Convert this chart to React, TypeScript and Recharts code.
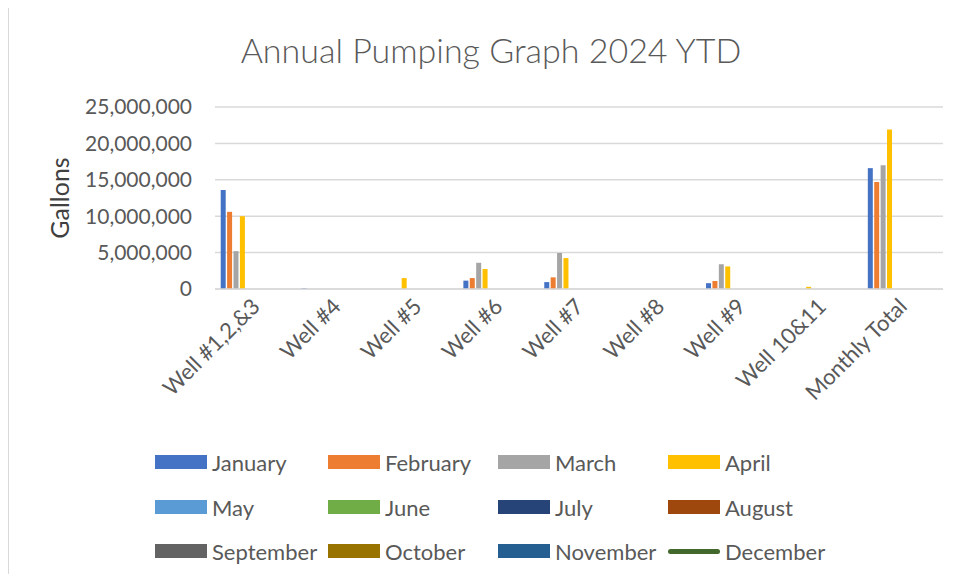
import React from 'react';
import {
  ComposedChart,
  Bar,
  Line,
  XAxis,
  YAxis,
  CartesianGrid,
  Legend,
} from 'recharts';

const TITLE = 'Annual Pumping Graph 2024 YTD';
const Y_LABEL = 'Gallons';

const CATEGORIES = [
  'Well #1,2,&3',
  'Well #4',
  'Well #5',
  'Well #6',
  'Well #7',
  'Well #8',
  'Well #9',
  'Well 10&11',
  'Monthly Total',
];

const MONTHS = [
  'January',
  'February',
  'March',
  'April',
  'May',
  'June',
  'July',
  'August',
  'September',
  'October',
  'November',
  'December',
];

const JANUARY = [13600000, 100000, 0, 1150000, 950000, 0, 800000, 0, 16600000];
const FEBRUARY = [10600000, 0, 0, 1500000, 1600000, 0, 1100000, 0, 14700000];
const MARCH = [5200000, 0, 0, 3600000, 4950000, 0, 3400000, 0, 17000000];
const APRIL = [10000000, 0, 1500000, 2750000, 4250000, 0, 3100000, 300000, 21900000];

const Y_TICKS = [0, 5000000, 10000000, 15000000, 20000000, 25000000];

const SERIES_VALUES: Record<string, number[]> = {
  January: JANUARY,
  February: FEBRUARY,
  March: MARCH,
  April: APRIL,
};

const COLORS = [
  '#4472C4',
  '#ED7D31',
  '#A5A5A5',
  '#FFC000',
  '#5B9BD5',
  '#70AD47',
  '#264478',
  '#9E480E',
  '#636363',
  '#997300',
  '#255E91',
  '#43682B',
];

const data = CATEGORIES.map((name, i) => {
  const row: Record<string, any> = { name };
  Object.keys(SERIES_VALUES).forEach((m) => {
    row[m] = SERIES_VALUES[m][i];
  });
  return row;
});

const FONT = 'Lato, "Open Sans", sans-serif';
const TEXT = '#595959';

const XTick = (props: any) => {
  const { x, y, payload } = props;
  return (
    <g transform={`translate(${x - 5},${y + 8})`}>
      <text
        x={0}
        y={0}
        dy="0.7em"
        textAnchor="end"
        transform="rotate(-45)"
        fill={TEXT}
        fontSize={22}
        fontFamily={FONT}
      >
        {payload.value}
      </text>
    </g>
  );
};

const YLabel = (props: any) => {
  const { viewBox } = props;
  const cx = 51;
  const cy = viewBox.y + viewBox.height / 2;
  return (
    <text
      x={cx}
      y={cy}
      textAnchor="middle"
      dominantBaseline="central"
      transform={`rotate(-90, ${cx}, ${cy})`}
      fill="#404040"
      fontSize={25}
      fontFamily={FONT}
    >
      {Y_LABEL}
    </text>
  );
};

const COL_X = [147, 320, 490, 660];
const ROW_Y = [454, 499, 543];

const LegendContent = () => (
  <div style={{ position: 'relative', width: 947, height: 566 }}>
    {MONTHS.map((m, i) => {
      const col = i % 4;
      const row = Math.floor(i / 4);
      const isLine = m === 'December';
      return (
        <div
          key={m}
          style={{
            position: 'absolute',
            left: COL_X[col],
            top: ROW_Y[row] - 14,
            height: 28,
            display: 'flex',
            alignItems: 'center',
            whiteSpace: 'nowrap',
          }}
        >
          <div
            style={{
              width: 52,
              height: isLine ? 5 : 14,
              borderRadius: isLine ? 3 : 0,
              background: COLORS[i],
              marginRight: 5,
            }}
          />
          <span style={{ fontFamily: FONT, fontSize: 22, color: TEXT }}>{m}</span>
        </div>
      );
    })}
  </div>
);

export default function App() {
  return (
    <div
      style={{
        position: 'relative',
        width: 947,
        height: 566,
        overflow: 'hidden',
        background: '#fff',
      }}
    >
      <div
        style={{
          position: 'absolute',
          left: 0,
          top: -1,
          width: 947,
          height: 1,
          background: '#d9d9d9',
        }}
      />
      <div
        style={{
          position: 'absolute',
          left: 0,
          top: -1,
          width: 1,
          height: 567,
          background: '#d9d9d9',
        }}
      />
      <div
        style={{
          position: 'absolute',
          left: 0,
          top: 21,
          width: 966,
          textAlign: 'center',
          fontFamily: FONT,
          fontSize: 34,
          fontWeight: 300,
          lineHeight: '42px',
          color: TEXT,
        }}
      >
        {TITLE}
      </div>
      <ComposedChart
        width={947}
        height={566}
        data={data}
        margin={{ top: 99, right: 12, bottom: 165, left: 0 }}
        barCategoryGap={5.7}
        barGap={1.4}
      >
        <CartesianGrid vertical={false} stroke="#d9d9d9" strokeWidth={1.5} />
        <XAxis
          dataKey="name"
          interval={0}
          height={120}
          tickLine={false}
          tickSize={0}
          tickMargin={0}
          axisLine={{ stroke: '#d9d9d9', strokeWidth: 1.5 }}
          tick={<XTick />}
        />
        <YAxis
          width={207}
          domain={[0, 25000000]}
          ticks={Y_TICKS}
          interval={0}
          axisLine={false}
          tickLine={false}
          tickSize={0}
          tickMargin={23}
          tick={{ fill: TEXT, fontSize: 21, fontFamily: FONT }}
          tickFormatter={(v: number) => v.toLocaleString('en-US')}
          label={<YLabel />}
        />
        {MONTHS.slice(0, 11).map((m, i) => (
          <Bar key={m} dataKey={m} fill={COLORS[i]} isAnimationActive={false} />
        ))}
        <Line
          dataKey="December"
          stroke={COLORS[11]}
          strokeWidth={3}
          dot={false}
          isAnimationActive={false}
        />
        <Legend
          layout="vertical"
          align="center"
          verticalAlign="middle"
          content={<LegendContent />}
          wrapperStyle={{ position: 'absolute', left: 0, top: 0, width: 947, height: 566, pointerEvents: 'none' }}
        />
      </ComposedChart>
    </div>
  );
}
